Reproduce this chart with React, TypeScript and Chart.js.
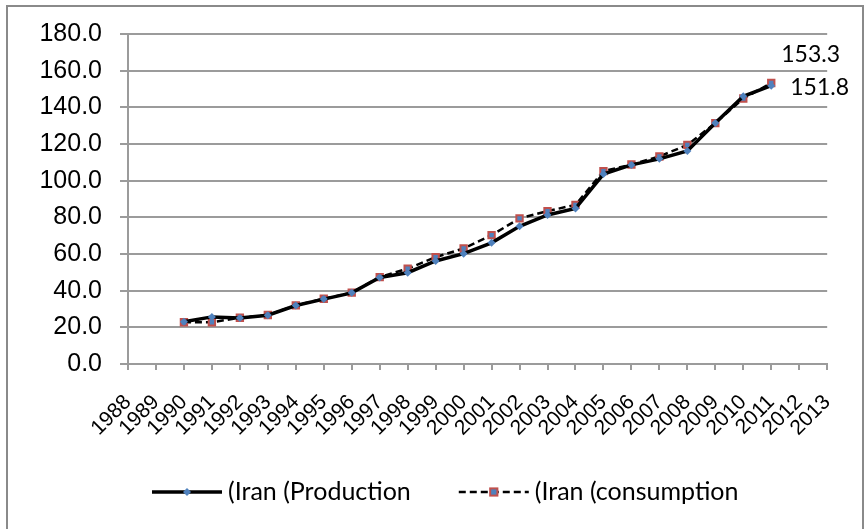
import React, { useEffect, useRef } from 'react';
import { Chart, registerables } from 'chart.js';

Chart.register(...registerables);

const years = ['1988', '1989', '1990', '1991', '1992', '1993', '1994', '1995', '1996', '1997', '1998', '1999', '2000', '2001', '2002', '2003', '2004', '2005', '2006', '2007', '2008', '2009', '2010', '2011', '2012', '2013'];
const production = [null, null, 23.0, 25.7, 25.1, 26.6, 31.9, 35.4, 38.8, 47.2, 49.8, 56.2, 60.2, 66.1, 75.1, 81.3, 84.8, 103.6, 108.6, 111.9, 116.2, 131.4, 146.0, 151.8, null, null];
const consumption = [null, null, 22.8, 22.8, 25.2, 26.7, 32.0, 35.6, 38.9, 47.4, 52.0, 58.3, 63.0, 70.3, 79.4, 83.4, 86.8, 105.2, 108.8, 113.2, 119.5, 131.4, 144.8, 153.3, null, null];
const seriesNames = ['(Iran (Production', '(Iran (consumption'];
const yMin = 0;
const yMax = 180;
const yStep = 20;

const BLUE = '#4F81BD';
const RED = '#C0504D';
const GRID = '#9b9b9b';

const lastIndex = (arr: (number | null)[]) => {
  for (let i = arr.length - 1; i >= 0; i--) if (arr[i] != null) return i;
  return -1;
};

const endLabels = {
  id: 'endLabels',
  afterDatasetsDraw(chart: any) {
    const ctx = chart.ctx;
    ctx.save();
    ctx.font = '23px Lato';
    ctx.fillStyle = '#000';
    ctx.textBaseline = 'middle';
    ctx.textAlign = 'left';
    const offsets = [
      { dx: 19, dy: 2 },
      { dx: 10, dy: -28 },
    ];
    chart.data.datasets.forEach((ds: any, di: number) => {
      const idx = lastIndex(ds.data);
      const el = chart.getDatasetMeta(di).data[idx];
      if (!el) return;
      ctx.fillText(Number(ds.data[idx]).toFixed(1), el.x + offsets[di].dx, el.y + offsets[di].dy);
    });
    ctx.restore();
  },
};

const customLegend = {
  id: 'customLegend',
  afterDraw(chart: any) {
    const ctx = chart.ctx;
    ctx.save();
    ctx.font = '25px Lato';
    ctx.textBaseline = 'middle';
    ctx.textAlign = 'left';
    const y = 492;
    const lineLen = 70;
    const textGap = 6;
    const itemGap = 48;
    let x = 152;
    chart.data.datasets.forEach((ds: any) => {
      ctx.save();
      ctx.strokeStyle = ds.borderColor;
      ctx.lineWidth = ds.borderWidth;
      ctx.setLineDash(ds.borderDash || []);
      ctx.beginPath();
      ctx.moveTo(x, y);
      ctx.lineTo(x + lineLen, y);
      ctx.stroke();
      ctx.setLineDash([]);
      const cx = x + lineLen / 2;
      ctx.fillStyle = ds.pointBackgroundColor;
      ctx.strokeStyle = ds.pointBorderColor;
      ctx.lineWidth = ds.pointBorderWidth;
      const r = ds.pointRadius;
      if (ds.pointStyle === 'rect') {
        ctx.fillRect(cx - r * 0.8, y - r * 0.8, r * 1.6, r * 1.6);
        ctx.strokeRect(cx - r * 0.8, y - r * 0.8, r * 1.6, r * 1.6);
      } else {
        ctx.beginPath();
        ctx.moveTo(cx, y - r);
        ctx.lineTo(cx + r, y);
        ctx.lineTo(cx, y + r);
        ctx.lineTo(cx - r, y);
        ctx.closePath();
        ctx.fill();
      }
      ctx.restore();
      ctx.fillStyle = '#000';
      ctx.fillText(ds.label, x + lineLen + textGap, y);
      x += lineLen + textGap + ctx.measureText(ds.label).width + itemGap;
    });
    ctx.restore();
  },
};

export default function App() {
  const ref = useRef<HTMLCanvasElement | null>(null);
  useEffect(() => {
    if (!ref.current) return;
    const chart = new Chart(ref.current, {
      type: 'line',
      data: {
        labels: years,
        datasets: [
          {
            label: seriesNames[0],
            data: production,
            borderColor: '#000',
            borderWidth: 3.5,
            pointStyle: 'rectRot',
            pointRadius: 4,
            pointBackgroundColor: BLUE,
            pointBorderColor: BLUE,
            pointBorderWidth: 0,
            tension: 0,
            spanGaps: false,
          },
          {
            label: seriesNames[1],
            data: consumption,
            borderColor: '#000',
            borderWidth: 2.5,
            borderDash: [7, 4],
            pointStyle: 'rect',
            pointRadius: 4.5,
            pointBackgroundColor: BLUE,
            pointBorderColor: RED,
            pointBorderWidth: 2,
            tension: 0,
            spanGaps: false,
          },
        ] as any,
      },
      options: {
        animation: false,
        responsive: false,
        layout: { padding: { top: 34, right: 36, left: 0, bottom: 0 } },
        plugins: {
          legend: { display: false },
          tooltip: { enabled: false },
        },
        scales: {
          x: {
            type: 'category',
            offset: false,
            grid: { display: true, drawOnChartArea: false, color: GRID, lineWidth: 2, tickLength: 6 },
            border: { color: GRID, width: 2 },
            ticks: {
              autoSkip: false,
              maxRotation: 45,
              minRotation: 45,
              color: '#000',
              padding: 20,
              font: { family: 'Liberation Sans, Arial', size: 21 },
            },
            afterFit: (s: any) => {
              s.height = 165;
            },
          },
          y: {
            min: yMin,
            max: yMax,
            ticks: {
              stepSize: yStep,
              color: '#000',
              padding: 18,
              font: { family: 'Liberation Sans, Arial', size: 25 },
              callback: (v: any) => Number(v).toFixed(1),
            },
            grid: { color: GRID, lineWidth: 2, tickLength: 8 },
            border: { color: GRID, width: 2 },
            afterFit: (s: any) => {
              s.width = 128;
            },
          },
        },
      },
      plugins: [endLabels, customLegend],
    });
    return () => chart.destroy();
  }, []);
  return (
    <div style={{ position: 'fixed', left: 0, top: 0, width: 865, height: 529, overflow: 'hidden', background: '#fff' }}>
      <div style={{ position: 'absolute', left: 6, top: 5, width: 858, height: 600, border: '2px solid #8a8a8a', boxSizing: 'border-box' }} />
      <canvas ref={ref} width={865} height={529} style={{ position: 'absolute', left: 0, top: 0, display: 'block' }} />
    </div>
  );
}
